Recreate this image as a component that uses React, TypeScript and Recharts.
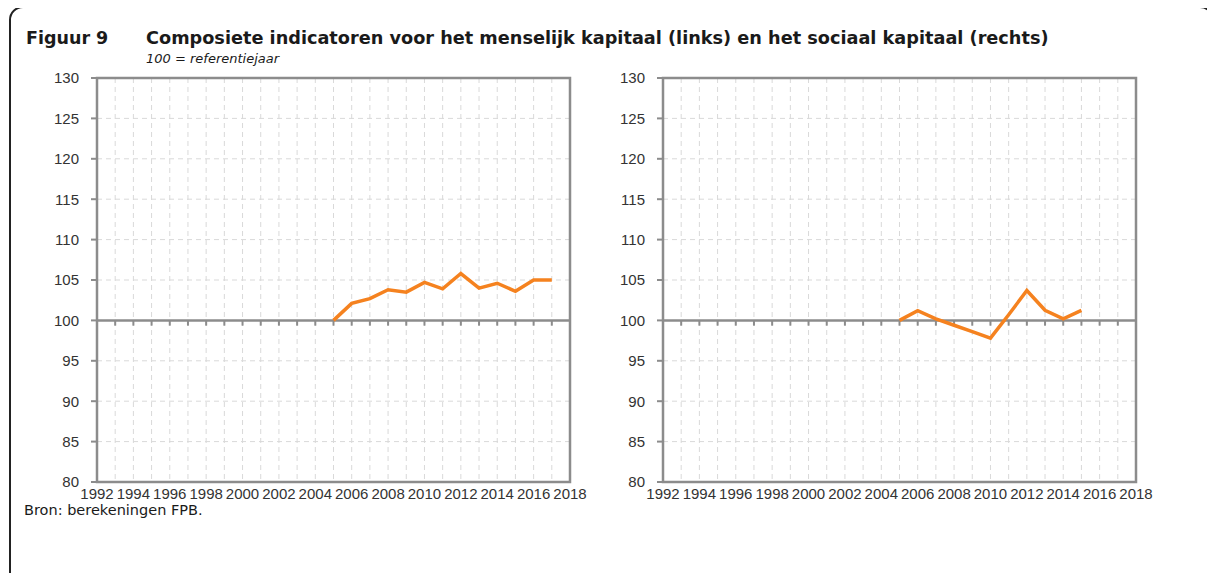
import {
  CartesianGrid,
  Line,
  LineChart,
  ReferenceArea,
  ReferenceLine,
  XAxis,
  YAxis,
} from "recharts";

// jaren van de x-as (elk jaar een rasterlijn, label om de twee jaar)
const yearTicks = [
  1992, 1993, 1994, 1995, 1996, 1997, 1998, 1999, 2000, 2001, 2002, 2003, 2004,
  2005, 2006, 2007, 2008, 2009, 2010, 2011, 2012, 2013, 2014, 2015, 2016, 2017,
  2018,
];
const valueTicks = [80, 85, 90, 95, 100, 105, 110, 115, 120, 125, 130];

// menselijk kapitaal (links)
const humanYears = [2005, 2006, 2007, 2008, 2009, 2010, 2011, 2012, 2013, 2014, 2015, 2016, 2017];
const humanValues = [100, 102.1, 102.7, 103.8, 103.5, 104.7, 103.9, 105.8, 104.0, 104.6, 103.6, 105.0, 105.0];

// sociaal kapitaal (rechts)
const socialYears = [2005, 2006, 2007, 2008, 2009, 2010, 2011, 2012, 2013, 2014, 2015];
const socialValues = [100, 101.2, 100.2, 99.4, 98.6, 97.8, 100.7, 103.7, 101.25, 100.2, 101.25];

const AXIS = "#8c8c8c";
const GRID = "#d9d9d9";
const ORANGE = "#f5821f";
const LABEL_FONT = "'Liberation Sans', Arial, sans-serif";

function Panel({
  years,
  values,
  left,
  marginLeft,
  marginRight,
}: {
  years: number[];
  values: number[];
  left: number;
  marginLeft: number;
  marginRight: number;
}) {
  const rows = years.map((year, i) => ({ year, v: values[i] }));
  return (
    <div style={{ position: "absolute", left, top: 0 }}>
      <LineChart
        width={600}
        height={581}
        data={rows}
        margin={{ top: 78, right: marginRight, bottom: 69, left: marginLeft }}
      >
        <CartesianGrid stroke={GRID} strokeDasharray="5 4" strokeWidth={1} />
        <XAxis
          type="number"
          dataKey="year"
          domain={[1992, 2018]}
          ticks={yearTicks}
          interval={0}
          height={30}
          axisLine={false}
          tickLine={false}
          tickSize={6}
          tickMargin={0}
          tickFormatter={(v: number) => (v % 2 === 0 ? String(v) : "")}
          tick={{ fill: "#333", fontSize: 15, fontFamily: LABEL_FONT }}
        />
        <YAxis
          type="number"
          domain={[80, 130]}
          ticks={valueTicks}
          interval={0}
          width={60}
          axisLine={false}
          tickLine={{ stroke: AXIS, strokeWidth: 2 }}
          tickSize={6}
          tickMargin={12}
          tick={{ fill: "#333", fontSize: 15, fontFamily: LABEL_FONT }}
        />
        <ReferenceArea
          x1={1992}
          x2={2018}
          y1={80}
          y2={130}
          fill="none"
          fillOpacity={0}
          stroke={AXIS}
          strokeWidth={2.5}
        />
        <ReferenceLine y={100} stroke={AXIS} strokeWidth={2.5} />
        {yearTicks.map((yr) => (
          <ReferenceLine
            key={yr}
            segment={[
              { x: yr, y: 100 },
              { x: yr, y: 99.35 },
            ]}
            stroke={AXIS}
            strokeWidth={2}
          />
        ))}
        <Line
          type="linear"
          dataKey="v"
          stroke={ORANGE}
          strokeWidth={3.5}
          dot={false}
          isAnimationActive={false}
        />
      </LineChart>
    </div>
  );
}

export default function App() {
  return (
    <div
      style={{
        position: "relative",
        width: 1215,
        height: 581,
        margin: -8,
        background: "#fff",
        overflow: "hidden",
        fontFamily: "'DejaVu Sans', sans-serif",
        color: "#1a1a1a",
      }}
    >
      <div
        style={{
          position: "absolute",
          left: 9,
          top: 6,
          width: 1201,
          height: 620,
          border: "2px solid #222",
          borderRadius: 14,
        }}
      />
      <div
        style={{
          position: "absolute",
          left: 26,
          top: 28,
          fontSize: 17.5,
          fontWeight: "bold",
          whiteSpace: "nowrap",
        }}
      >
        Figuur 9
      </div>
      <div
        style={{
          position: "absolute",
          left: 146,
          top: 28,
          fontSize: 17.7,
          fontWeight: "bold",
          whiteSpace: "nowrap",
        }}
      >
        Composiete indicatoren voor het menselijk kapitaal (links) en het sociaal kapitaal (rechts)
      </div>
      <div
        style={{
          position: "absolute",
          left: 146,
          top: 51,
          fontSize: 13,
          fontStyle: "italic",
          whiteSpace: "nowrap",
        }}
      >
        100 = referentiejaar
      </div>
      <Panel years={humanYears} values={humanValues} left={0} marginLeft={37} marginRight={30} />
      <Panel years={socialYears} values={socialValues} left={600} marginLeft={3} marginRight={64} />
      <div
        style={{
          position: "absolute",
          left: 24,
          top: 502,
          fontSize: 14.5,
          whiteSpace: "nowrap",
        }}
      >
        Bron: berekeningen FPB.
      </div>
    </div>
  );
}
